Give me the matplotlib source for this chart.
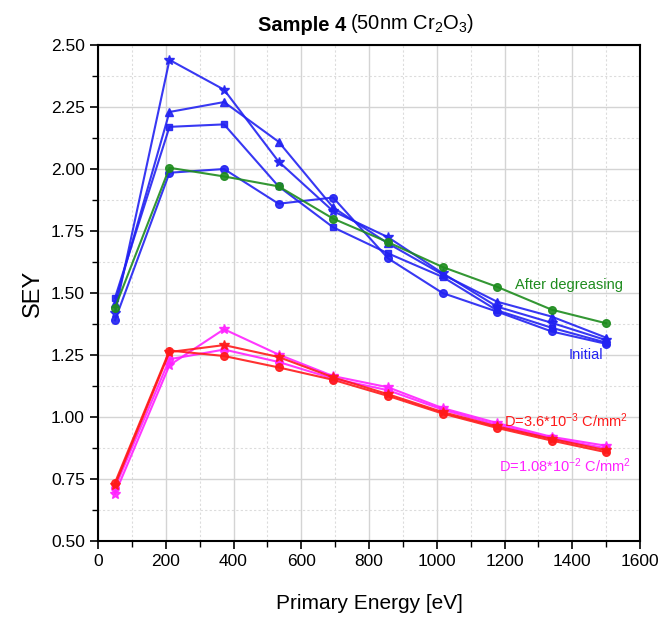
import matplotlib
matplotlib.use("Agg")
import matplotlib.pyplot as plt
from matplotlib.ticker import MultipleLocator
import matplotlib.font_manager as fm

names = {f.name for f in fm.fontManager.ttflist}
FONT = "Liberation Sans Narrow" if "Liberation Sans Narrow" in names else "Liberation Sans"
plt.rcParams['font.family'] = [FONT, 'DejaVu Sans']
plt.rcParams['mathtext.fontset'] = 'custom'
plt.rcParams['mathtext.rm'] = FONT
plt.rcParams['mathtext.it'] = FONT
plt.rcParams['mathtext.bf'] = FONT

energy = [50, 211, 372, 533, 694, 856, 1017, 1178, 1339, 1500]

initial_star = [1.42, 2.44, 2.32, 2.03, 1.83, 1.725, 1.58, 1.445, 1.38, 1.31]
initial_tri = [1.46, 2.23, 2.27, 2.11, 1.845, 1.70, 1.575, 1.465, 1.405, 1.32]
initial_sq = [1.48, 2.17, 2.18, 1.93, 1.765, 1.66, 1.565, 1.43, 1.36, 1.30]
initial_circ = [1.39, 1.985, 2.00, 1.86, 1.885, 1.64, 1.50, 1.425, 1.345, 1.295]
degreased = [1.44, 2.005, 1.97, 1.93, 1.80, 1.705, 1.605, 1.525, 1.433, 1.378]

d1_circ = [0.735, 1.268, 1.246, 1.20, 1.15, 1.085, 1.014, 0.956, 0.905, 0.858]
d1_star = [0.725, 1.262, 1.29, 1.242, 1.16, 1.092, 1.02, 0.962, 0.912, 0.866]
d2_circ = [0.715, 1.233, 1.272, 1.222, 1.155, 1.108, 1.03, 0.968, 0.914, 0.874]
d2_star = [0.69, 1.209, 1.354, 1.252, 1.165, 1.12, 1.036, 0.976, 0.92, 0.884]

BLUE = '#2222f2'
GREEN = '#1e8c1e'
RED = '#ff1a1a'
MAG = '#ff22ff'

fig = plt.figure(figsize=(6.65, 6.2), dpi=100)
ax = fig.add_axes([0.1474, 0.1274, 0.8150, 0.8000])

ax.set_xlim(0, 1600)
ax.set_ylim(0.5, 2.5)
ax.xaxis.set_major_locator(MultipleLocator(200))
ax.xaxis.set_minor_locator(MultipleLocator(100))
ax.yaxis.set_major_locator(MultipleLocator(0.25))
ax.yaxis.set_minor_locator(MultipleLocator(0.125))
ax.yaxis.set_major_formatter(matplotlib.ticker.FormatStrFormatter('%.2f'))
ax.grid(which='major', color='#d4d4d4', lw=1.0, ls='-', zorder=0)
ax.grid(which='minor', color='#dcdcdc', lw=0.8, ls=(0, (2, 2)), zorder=0)
ax.set_axisbelow(True)
ax.tick_params(which='major', direction='out', length=6, width=1.2, labelsize=12.5)
ax.tick_params(which='minor', direction='out', length=4, width=1.0)
for s in ax.spines.values():
    s.set_linewidth(1.5)

lw = 1.5
ms = 5.5
ax.plot(energy, initial_star, color=BLUE, lw=lw, marker='*', ms=ms + 1.5, alpha=0.9, zorder=3)
ax.plot(energy, initial_tri, color=BLUE, lw=lw, marker='^', ms=ms, alpha=0.9, zorder=3)
ax.plot(energy, initial_sq, color=BLUE, lw=lw, marker='s', ms=ms - 0.5, alpha=0.9, zorder=3)
ax.plot(energy, initial_circ, color=BLUE, lw=lw, marker='o', ms=ms, alpha=0.9, zorder=3)
ax.plot(energy, degreased, color=GREEN, lw=lw, marker='o', ms=ms, alpha=0.9, zorder=4)

ax.plot(energy, d2_star, color=MAG, lw=lw, marker='*', ms=ms + 1.5, alpha=0.9, zorder=3)
ax.plot(energy, d2_circ, color=MAG, lw=lw, marker='o', ms=ms, alpha=0.9, zorder=3)
ax.plot(energy, d1_star, color=RED, lw=lw, marker='*', ms=ms + 1.5, alpha=0.9, zorder=3)
ax.plot(energy, d1_circ, color=RED, lw=lw, marker='o', ms=ms, alpha=0.9, zorder=3)

ax.text(1389, 1.532, 'After degreasing', color=GREEN, fontsize=10.5, ha='center', va='center')
ax.text(1439, 1.249, 'Initial', color=BLUE, fontsize=10.5, ha='center', va='center')
ax.text(1382, 0.987, r'D=3.6*10$^{-3}$ C/mm$^{2}$', color=RED, fontsize=10.5, ha='center', va='center')
ax.text(1378, 0.805, r'D=1.08*10$^{-2}$ C/mm$^{2}$', color=MAG, fontsize=10.5, ha='center', va='center')

ax.set_xlabel('Primary Energy [eV]', fontsize=15, labelpad=18)
ax.set_ylabel('SEY', fontsize=17, labelpad=5)

ax.text(0.458, 1.02, 'Sample 4', transform=ax.transAxes, fontsize=14.5, fontweight='bold',
        ha='right', va='bottom')
ax.text(0.465, 1.02, r'(50nm Cr$_2$O$_3$)', transform=ax.transAxes, fontsize=14.5,
        ha='left', va='bottom')

fig.savefig('out.png', dpi=100)
